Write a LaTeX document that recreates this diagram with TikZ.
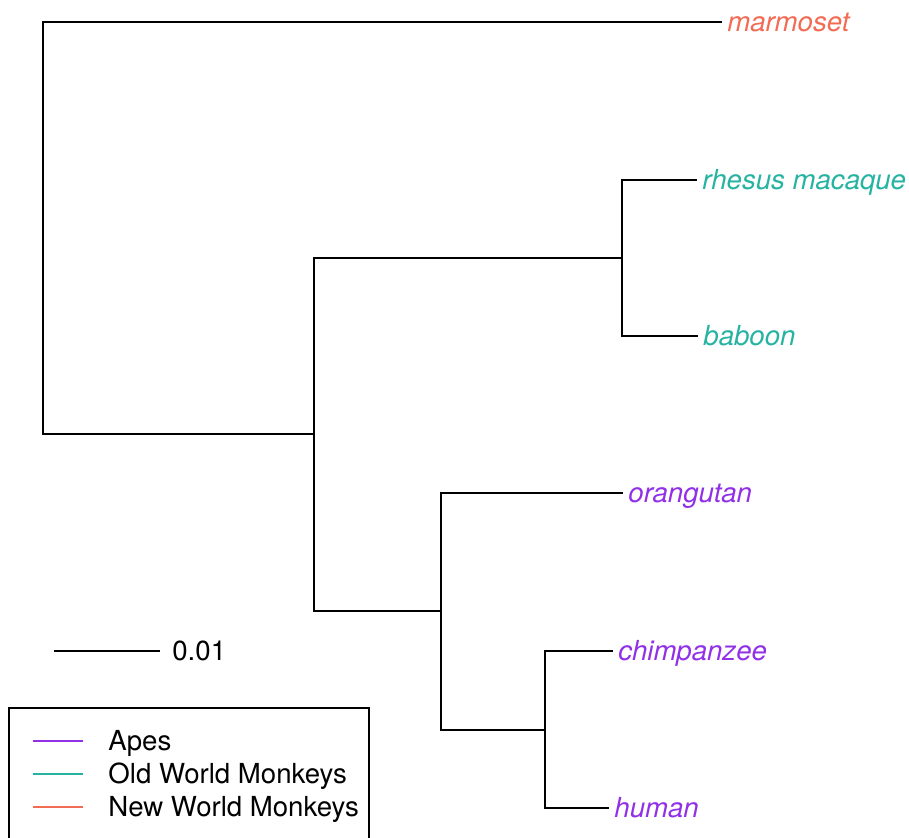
\documentclass[tikz,border=0pt]{standalone}
\usepackage{fontspec}
\setmainfont{TeX Gyre Heros}
\usetikzlibrary{positioning}
\definecolor{apes}{HTML}{9130E6}
\definecolor{oldworld}{HTML}{26B3A2}
\definecolor{newworld}{HTML}{F26B55}
\tikzset{%
   branch/.style={draw=black, line width=1pt},
   leaf/.style={anchor=west, inner xsep=2.5pt, inner ysep=0pt, text height=9.8pt, text depth=0pt, font=\fontsize{13.8}{16}\selectfont\itshape},
   keytext/.style={anchor=west, inner sep=0pt, text height=9.8pt, text depth=0pt, font=\fontsize{13.8}{16}\selectfont},
}

\begin{document}
\begin{tikzpicture}[x=0.5pt, y=-0.5pt]
   \useasboundingbox (0,0) rectangle (909,838);
   % internal nodes
   \coordinate (root) at (43,228.5);
   \coordinate (n1) at (314,434.5);
   \coordinate (owm) at (622,258);
   \coordinate (ape) at (441,611);
   \coordinate (hc) at (545,729.5);
   % tips
   \node[leaf, text=newworld] (marm) at (722,22) {marmoset};
   \node[leaf, text=oldworld] (rhes) at (697,180) {rhesus macaque};
   \node[leaf, text=oldworld] (babo) at (698,336) {baboon};
   \node[leaf, text=apes] (oran) at (623,493) {orangutan};
   \node[leaf, text=apes] (chim) at (613,651) {chimpanzee};
   \node[leaf, text=apes] (huma) at (609,808) {human};
   % branches
   \draw[branch] (root) |- (marm.west);
   \draw[branch] (root) |- (n1);
   \draw[branch] (n1) |- (owm);
   \draw[branch] (n1) |- (ape);
   \draw[branch] (owm) |- (rhes.west);
   \draw[branch] (owm) |- (babo.west);
   \draw[branch] (ape) |- (oran.west);
   \draw[branch] (ape) |- (hc);
   \draw[branch] (hc) |- (chim.west);
   \draw[branch] (hc) |- (huma.west);
   % scale bar
   \coordinate (sb0) at (54,651);
   \coordinate (sb1) at (160,651);
   \draw[branch] (sb0) -- (sb1);
   \node[keytext, right=6pt of sb1] (sblab) {0.01};
   % legend
   \draw[line width=1pt] (9,708) rectangle (369,860);
   \foreach \name/\col/\yy in {Apes/apes/741, Old World Monkeys/oldworld/774, New World Monkeys/newworld/807} {
      \draw[\col, line width=0.8pt] (33,\yy) -- (83,\yy);
      \node[keytext] at (108,\yy) {\name};
   }
\end{tikzpicture}
\end{document}
